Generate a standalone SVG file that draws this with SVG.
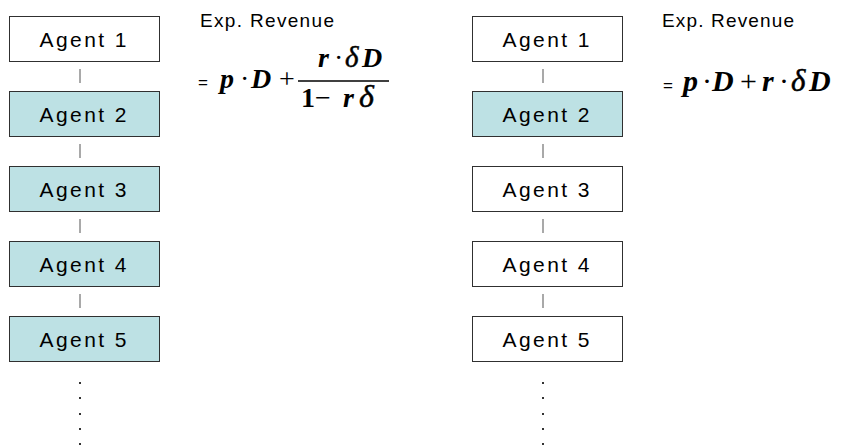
<svg xmlns="http://www.w3.org/2000/svg" width="854" height="448" viewBox="0 0 854 448">
<style>
.box{stroke:#303030;stroke-width:1}
.w{fill:#ffffff}
.t{fill:#bde1e4}
.lbl{font-family:"Liberation Sans",Arial,sans-serif;font-size:21px;fill:#000;text-anchor:middle}
.hdr{font-family:"Liberation Sans",Arial,sans-serif;font-size:19px;fill:#000}
.eq{font-family:"Liberation Sans",Arial,sans-serif;font-size:17px;fill:#000}
.m{font-family:"Liberation Serif","Times New Roman",serif;font-style:italic;font-weight:bold;fill:#000}
.g{font-family:"Liberation Serif","Times New Roman",serif;font-style:italic;fill:#000;stroke:#000;stroke-width:0.5}
.op{font-family:"Liberation Serif","Times New Roman",serif;fill:#000}
.con{stroke:#707070;stroke-width:1.2}
.dot{fill:#333}
</style>
<rect width="854" height="448" fill="#ffffff"/>
<g id="left-chain">
<g id="L1"><rect class="box w" x="9.5" y="16.5" width="150" height="45"/><text class="lbl" x="83" y="47" textLength="87">Agent 1</text></g>
<g id="L2"><rect class="box t" x="9.5" y="91.5" width="150" height="45"/><text class="lbl" x="83" y="122" textLength="87">Agent 2</text></g>
<g id="L3"><rect class="box t" x="9.5" y="166.5" width="150" height="45"/><text class="lbl" x="83" y="197" textLength="87">Agent 3</text></g>
<g id="L4"><rect class="box t" x="9.5" y="241.5" width="150" height="45"/><text class="lbl" x="83" y="272" textLength="87">Agent 4</text></g>
<g id="L5"><rect class="box t" x="9.5" y="316.5" width="150" height="45"/><text class="lbl" x="83" y="347" textLength="87">Agent 5</text></g>
</g>
<g id="right-chain">
<g id="R1"><rect class="box w" x="472.5" y="16.5" width="150" height="45"/><text class="lbl" x="546" y="47" textLength="87">Agent 1</text></g>
<g id="R2"><rect class="box t" x="472.5" y="91.5" width="150" height="45"/><text class="lbl" x="546" y="122" textLength="87">Agent 2</text></g>
<g id="R3"><rect class="box w" x="472.5" y="166.5" width="150" height="45"/><text class="lbl" x="546" y="197" textLength="87">Agent 3</text></g>
<g id="R4"><rect class="box w" x="472.5" y="241.5" width="150" height="45"/><text class="lbl" x="546" y="272" textLength="87">Agent 4</text></g>
<g id="R5"><rect class="box w" x="472.5" y="316.5" width="150" height="45"/><text class="lbl" x="546" y="347" textLength="87">Agent 5</text></g>
</g>
<g id="connectors">
<line class="con" x1="80" y1="69" x2="80" y2="83"/>
<line class="con" x1="80" y1="144" x2="80" y2="158"/>
<line class="con" x1="80" y1="219" x2="80" y2="233"/>
<line class="con" x1="80" y1="294" x2="80" y2="308"/>
<line class="con" x1="543" y1="69" x2="543" y2="83"/>
<line class="con" x1="543" y1="144" x2="543" y2="158"/>
<line class="con" x1="543" y1="219" x2="543" y2="233"/>
<line class="con" x1="543" y1="294" x2="543" y2="308"/>
<g class="dot">
<rect x="79" y="382" width="2" height="2"/><rect x="79" y="397" width="2" height="2"/><rect x="79" y="413" width="2" height="2"/><rect x="79" y="428" width="2" height="2"/><rect x="79" y="443" width="2" height="2"/>
<rect x="542" y="382" width="2" height="2"/><rect x="542" y="397" width="2" height="2"/><rect x="542" y="413" width="2" height="2"/><rect x="542" y="428" width="2" height="2"/><rect x="542" y="443" width="2" height="2"/>
</g>
</g>
<g id="formula-left" font-size="28">
<text class="hdr" x="200" y="27" textLength="134">Exp. Revenue</text>
<text class="eq" x="198" y="88">=</text>
<text class="m" x="220" y="88">p</text>
<text class="op" x="240" y="88">·</text>
<text class="m" x="251" y="88">D</text>
<text class="op" x="279" y="88">+</text>
<line x1="298" y1="81" x2="389" y2="81" stroke="#000" stroke-width="1.5"/>
<text class="m" x="318" y="67">r</text>
<text class="op" x="334" y="67">·</text>
<text class="g" x="345" y="67" font-size="29">δ</text>
<text class="m" x="362" y="67">D</text>
<text class="op" x="301" y="107" font-weight="bold">1</text>
<text class="op" x="315" y="107">−</text>
<text class="m" x="343" y="107">r</text>
<text class="g" x="359" y="107" font-size="32">δ</text>
</g>
<g id="formula-right" font-size="30">
<text class="hdr" x="662" y="27" textLength="132">Exp. Revenue</text>
<text class="eq" x="663" y="91">=</text>
<text class="m" x="683" y="91">p</text>
<text class="op" x="702" y="91">·</text>
<text class="m" x="712" y="91">D</text>
<text class="op" x="740" y="91">+</text>
<text class="m" x="762" y="91">r</text>
<text class="op" x="779" y="91">·</text>
<text class="g" x="791" y="91" font-size="31">δ</text>
<text class="m" x="809" y="91">D</text>
</g>
</svg>
